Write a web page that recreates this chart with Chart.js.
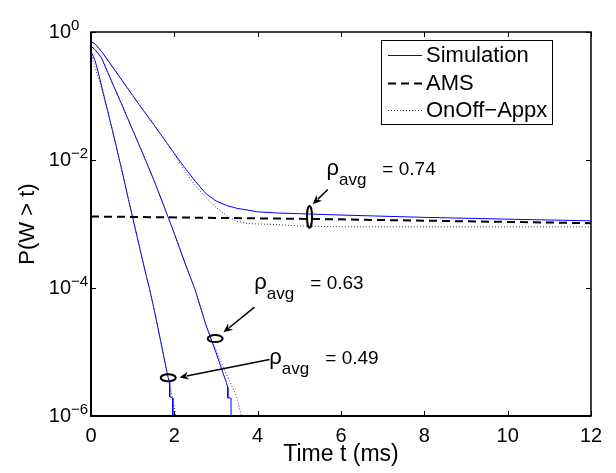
<!DOCTYPE html>
<html><head><meta charset="utf-8">
<script src="https://cdn.jsdelivr.net/npm/chart.js@4/dist/chart.umd.min.js"></script>
<style>html,body{margin:0;padding:0;background:#fff;overflow:hidden}#wrap{width:616px;height:473px;position:relative}</style>
</head><body><div id="wrap"><canvas id="c" width="616" height="473"></canvas></div>
<script>
// ---- tick labels ----
const xTicks = [0, 2, 4, 6, 8, 10, 12];
const yTickValues = [1, 1e-2, 1e-4, 1e-6];
const yTickBase = '10';
const yTickExponents = ['0', '\u22122', '\u22124', '\u22126'];
const seriesNames = ['Simulation', 'AMS', 'OnOff\u2212Appx'];
const xTitle = 'Time t (ms)';
const yTitle = 'P(W > t)';

// ---- rho_avg = 0.74 ----
const tSim74 = [0,0.1,0.25,0.5,0.75,1,1.25,1.5,1.75,2,2.25,2.5,2.75,3,3.25,3.5,4,4.5,5,6,8,10,12];
const pSim74 = [0.714,0.646,0.501,0.295,0.174,0.102,0.0603,0.0363,0.0214,0.0126,0.00759,0.00468,0.00302,0.00229,0.00195,0.00176,0.00155,0.00148,0.00145,0.00138,0.00127,0.00119,0.00112];
const tOnOff74 = [0,0.1,0.25,0.5,0.75,1,1.25,1.5,1.75,2,2.25,2.5,2.75,3,3.25,3.5,3.75,4,4.5,5,6,8,10,12];
const pOnOff74 = [0.714,0.646,0.501,0.295,0.174,0.102,0.0603,0.0363,0.0214,0.0126,0.00676,0.00398,0.00263,0.00182,0.00135,0.0011,0.00102,0.001,0.000977,0.000933,0.000905,0.000902,0.0009,0.0009];
const tAMS = [0, 5.24, 12];
const pAMS = [0.00131, 0.0012, 0.00103];

// ---- rho_avg = 0.63 ----
const tSim63 = [0,0.1,0.25,0.5,0.75,1,1.25,1.5,1.75,2,2.25,2.5,2.75,3,3.25,3.28,3.285,3.36,3.365];
const pSim63 = [0.603,0.525,0.398,0.166,0.0708,0.0295,0.0123,0.00501,0.00191,0.000708,0.000251,9.33e-5,2.75e-5,9.77e-6,3.31e-6,2.82e-6,1.91e-6,1.91e-6,1e-7];
const tOnOff63 = [0,0.1,0.25,0.5,0.75,1,1.25,1.5,1.75,2,2.25,2.5,2.75,3,3.25,3.5,3.6,3.65];
const pOnOff63 = [0.603,0.525,0.398,0.166,0.0708,0.0295,0.0123,0.00501,0.00191,0.000708,0.000251,9.33e-5,2.75e-5,1.07e-5,4.47e-6,2.0e-6,1.05e-6,7.1e-7];

// ---- rho_avg = 0.49 ----
const tSim49 = [0,0.1,0.2,0.3,0.4,0.5,0.6,0.7,0.8,0.9,1,1.1,1.2,1.3,1.4,1.5,1.6,1.7,1.8,1.85,1.88,1.89,1.96,1.965];
const pSim49 = [0.49,0.355,0.2,0.107,0.0589,0.0316,0.017,0.00891,0.00468,0.0024,0.00126,0.000661,0.000347,0.000182,0.0001,5.13e-5,2.51e-5,1.2e-5,5.75e-6,3.98e-6,3.55e-6,2.0e-6,1.91e-6,1e-7];
const tOnOff49 = [0,0.05,0.1,0.2,0.3,0.4,0.5,0.6,0.7,0.8,0.9,1,1.1,1.2,1.3,1.4,1.5,1.6,1.7,1.8,1.9,2.0,2.05];
const pOnOff49 = [0.49,0.355,0.275,0.174,0.1,0.0575,0.0316,0.017,0.00891,0.00468,0.0024,0.00126,0.000661,0.000347,0.000182,0.0001,5.13e-5,2.51e-5,1.2e-5,5.75e-6,2.82e-6,1.38e-6,7.9e-7];

// ---- annotation labels and anchors (data coordinates) ----
const rhoLabels = ['0.74', '0.63', '0.49'];
const annotations = [
  {value: rhoLabels[0], label: [5.65, 5.89e-3], ring: [5.244, 1.29e-3], from: [5.683, 3.47e-3], to: [5.323, 2.04e-3], tall: true},
  {value: rhoLabels[1], label: [3.92, 9.48e-5], ring: [2.98, 1.62e-5], from: [3.924, 5.02e-5], to: [3.18, 2.03e-5], tall: false},
  {value: rhoLabels[2], label: [4.28, 6.49e-6], ring: [1.853, 3.96e-6], from: [4.284, 7.66e-6], to: [2.124, 4.0e-6], tall: false}
];

const FONT = '"Liberation Sans", Arial, Helvetica, sans-serif';
const pts = (t, p) => t.map((x, i) => ({x: x, y: p[i]}));
const simStyle = {borderColor: '#0000ff', borderWidth: 1, borderDash: []};
const amsStyle = {borderColor: '#000000', borderWidth: 2, borderDash: [8, 5]};
const onoffStyle = {borderColor: '#333333', borderWidth: 1, borderDash: [1, 2]};
const ds = (label, t, p, st) => Object.assign({label: label, data: pts(t, p), pointRadius: 0, fill: false, tension: 0}, st);

const datasets = [
  ds(seriesNames[0], tSim74, pSim74, simStyle),
  ds(seriesNames[0], tSim63, pSim63, simStyle),
  ds(seriesNames[0], tSim49, pSim49, simStyle),
  ds(seriesNames[1], tAMS, pAMS, amsStyle),
  ds(seriesNames[2], tOnOff74, pOnOff74, onoffStyle),
  ds(seriesNames[2], tOnOff63, pOnOff63, onoffStyle),
  ds(seriesNames[2], tOnOff49, pOnOff49, onoffStyle)
];
datasets.forEach((d, i) => { d.order = -i; });

const frame = {
  id: 'frame',
  afterDatasetsDraw(chart) {
    const ctx = chart.ctx, a = chart.chartArea, xs = chart.scales.x, ys = chart.scales.y;
    ctx.save();
    ctx.strokeStyle = '#000';
    ctx.setLineDash([]);
    // ticks inward
    ctx.lineWidth = 1;
    ctx.beginPath();
    xTicks.forEach(v => {
      const x = Math.round(xs.getPixelForValue(v)) + 0.5;
      ctx.moveTo(x, a.bottom); ctx.lineTo(x, a.bottom - 5);
      ctx.moveTo(x, a.top); ctx.lineTo(x, a.top + 5);
    });
    yTickValues.forEach(v => {
      const y = Math.round(ys.getPixelForValue(v)) + 0.5;
      ctx.moveTo(a.left, y); ctx.lineTo(a.left + 5, y);
      ctx.moveTo(a.right, y); ctx.lineTo(a.right - 5, y);
    });
    ctx.stroke();
    // box
    ctx.lineWidth = 1.5;
    ctx.strokeRect(a.left, a.top, a.right - a.left, a.bottom - a.top);
    ctx.lineWidth = 2;
    ctx.beginPath();
    ctx.moveTo(a.left, a.top); ctx.lineTo(a.left, a.bottom); ctx.lineTo(a.right, a.bottom);
    ctx.stroke();

    // y tick exponents
    ctx.fillStyle = '#000';
    ctx.font = '15px ' + FONT;
    ctx.textAlign = 'left';
    ctx.textBaseline = 'middle';
    yTickValues.forEach((v, i) => {
      const y = ys.getPixelForValue(v);
      ctx.fillText(yTickExponents[i], a.left - 20, y - 6);
    });

    // annotations
    annotations.forEach(an => {
      const cx = xs.getPixelForValue(an.ring[0]), cy = ys.getPixelForValue(an.ring[1]);
      ctx.lineWidth = 2;
      ctx.beginPath();
      if (an.tall) ctx.ellipse(cx, cy, 2.5, 11, 0, 0, Math.PI * 2);
      else ctx.ellipse(cx, cy, 7.5, 3.5, 0, 0, Math.PI * 2);
      ctx.stroke();
      // arrow
      const x1 = xs.getPixelForValue(an.from[0]), y1 = ys.getPixelForValue(an.from[1]);
      const x2 = xs.getPixelForValue(an.to[0]), y2 = ys.getPixelForValue(an.to[1]);
      const ang = Math.atan2(y2 - y1, x2 - x1);
      const hl = 9, hw = 4;
      ctx.lineWidth = 1.5;
      ctx.beginPath();
      ctx.moveTo(x1, y1);
      ctx.lineTo(x2 - Math.cos(ang) * hl * 0.8, y2 - Math.sin(ang) * hl * 0.8);
      ctx.stroke();
      ctx.beginPath();
      ctx.moveTo(x2, y2);
      ctx.lineTo(x2 - Math.cos(ang) * hl + Math.sin(ang) * hw, y2 - Math.sin(ang) * hl - Math.cos(ang) * hw);
      ctx.lineTo(x2 - Math.cos(ang) * hl * 0.7, y2 - Math.sin(ang) * hl * 0.7);
      ctx.lineTo(x2 - Math.cos(ang) * hl - Math.sin(ang) * hw, y2 - Math.sin(ang) * hl + Math.cos(ang) * hw);
      ctx.closePath();
      ctx.fill();
      // label
      const lx = xs.getPixelForValue(an.label[0]), ly = ys.getPixelForValue(an.label[1]);
      ctx.textBaseline = 'alphabetic';
      ctx.textAlign = 'left';
      ctx.font = '22px ' + FONT;
      ctx.fillText('\u03c1', lx, ly);
      let w = ctx.measureText('\u03c1').width;
      ctx.font = '17px ' + FONT;
      ctx.fillText('avg', lx + w, ly + 10);
      w += ctx.measureText('avg').width;
      ctx.font = '19px ' + FONT;
      ctx.fillText('= ' + an.value, lx + w + 16, ly);
    });

    // legend
    const lx0 = a.right - 210, ly0 = a.top + 8, lw = 171, lh = 84;
    ctx.fillStyle = '#fff';
    ctx.fillRect(lx0, ly0, lw, lh);
    ctx.lineWidth = 1;
    ctx.strokeStyle = '#000';
    ctx.setLineDash([]);
    ctx.strokeRect(lx0 + 0.5, ly0 + 0.5, lw, lh);
    const styles = [simStyle, amsStyle, onoffStyle];
    const rowY = [14.5, 43, 69.5];
    seriesNames.forEach((name, i) => {
      const y = ly0 + rowY[i];
      const st = styles[i];
      ctx.strokeStyle = st.borderColor;
      ctx.lineWidth = st.borderWidth;
      ctx.setLineDash(st.borderDash);
      ctx.beginPath();
      ctx.moveTo(lx0 + 7, Math.round(y) + 0.5); ctx.lineTo(lx0 + 41, Math.round(y) + 0.5);
      ctx.stroke();
      ctx.setLineDash([]);
      ctx.fillStyle = '#000';
      ctx.font = '22px ' + FONT;
      ctx.textBaseline = 'middle';
      ctx.fillText(name, lx0 + 45, y + 1);
    });
    ctx.restore();
  }
};

new Chart(document.getElementById('c'), {
  type: 'line',
  data: {datasets: datasets},
  options: {
    responsive: false,
    animation: false,
    devicePixelRatio: 1,
    layout: {padding: {top: 24, right: 25, left: 0, bottom: 0}},
    plugins: {legend: {display: false}, tooltip: {enabled: false}},
    scales: {
      x: {
        type: 'linear', min: 0, max: 12,
        afterBuildTicks: s => { s.ticks = xTicks.map(v => ({value: v})); },
        afterFit: s => { s.height = 57; },
        grid: {display: false, drawTicks: false, tickLength: 0},
        border: {display: false},
        ticks: {color: '#000', padding: 8, font: {size: 20, family: FONT}, maxRotation: 0, autoSkip: false},
        title: {display: true, text: xTitle, color: '#000', font: {size: 23, family: FONT}, padding: {top: 0, bottom: 5}}
      },
      y: {
        type: 'logarithmic', min: 1e-6, max: 1,
        afterBuildTicks: s => { s.ticks = yTickValues.map(v => ({value: v})); },
        afterFit: s => { s.width = 91; },
        grid: {display: false, drawTicks: false, tickLength: 0},
        border: {display: false},
        ticks: {color: '#000', padding: 20, font: {size: 20, family: FONT}, autoSkip: false, callback: () => yTickBase},
        title: {display: true, text: yTitle, color: '#000', font: {size: 22, family: FONT}, padding: {top: 15, bottom: 0}}
      }
    }
  },
  plugins: [frame]
});
</script>
</body></html>
